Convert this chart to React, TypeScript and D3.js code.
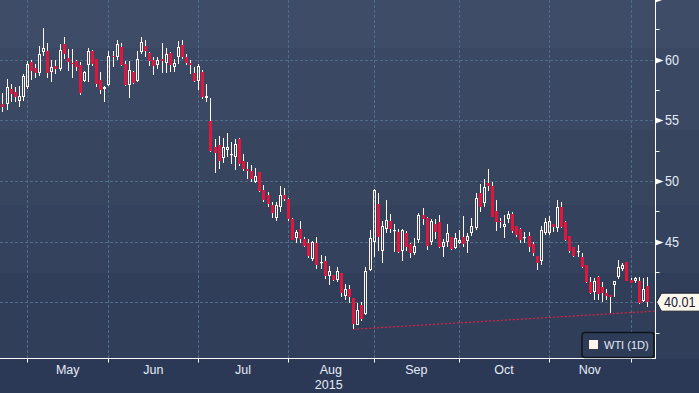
import React from "react";
import * as d3 from "d3";

// WTI daily candles, 23 Apr 2015 .. early Dec 2015 (trading-day index)
const opens = [
  56.35, 56.3, 57.54, 57.29, 56.61, 56.94, 57.7, 59.79, 59.27, 58.89,
  60.59, 60.7, 59.0, 59.5, 59.22, 61.3, 60.12, 59.7, 59.85, 59.55,
  58.26, 59.52, 60.7, 60.04, 58.31, 57.57, 57.93, 60.32, 60.18, 61.0,
  59.6, 57.93, 59.0, 58.26, 60.6, 61.13, 60.5, 59.96, 59.57, 60.04,
  59.74, 60.5, 59.41, 60.23, 61.19, 60.18, 59.74, 58.92, 58.26, 59.0,
  56.85, 54.93, 52.76, 52.95, 51.85, 52.51, 52.2, 51.99, 53.45, 51.61,
  50.97, 50.78, 49.93, 50.76, 49.25, 48.83, 47.98, 46.94, 47.82, 48.83,
  48.48, 46.86, 45.32, 46.04, 45.21, 44.88, 43.57, 44.88, 43.28, 43.37,
  42.19, 42.22, 41.86, 42.38, 40.54, 41.07, 40.35, 38.16, 39.78, 39.0,
  42.66, 44.99, 48.1, 44.25, 46.06, 46.7, 45.85, 45.79, 44.2, 45.68,
  44.8, 44.09, 45.13, 47.16, 46.92, 44.97, 46.45, 46.59, 44.58, 45.0,
  45.35, 44.5, 44.91, 45.35, 45.08, 45.71, 46.09, 49.03, 48.15, 49.8,
  49.58, 47.52, 46.72, 46.23, 46.86, 47.27, 46.28, 46.06, 45.29, 45.46,
  44.8, 43.81, 43.43, 45.73, 45.68, 46.45, 46.09, 47.82, 46.64, 45.46,
  44.53, 44.14, 43.7, 43.07, 41.67, 40.87, 42.06, 41.23, 40.79, 40.63,
  41.42, 42.06, 42.72, 43.34, 41.83, 41.75, 41.78, 40.13, 41.34,
];
const highs = [
  57.2, 58.4, 57.95, 57.7, 57.8, 58.78, 59.88, 59.93, 59.6, 61.14,
  62.57, 61.33, 59.96, 59.93, 61.3, 61.83, 60.84, 60.84, 59.96, 59.8,
  59.08, 60.92, 60.78, 60.04, 59.0, 57.8, 60.7, 60.7, 61.58, 61.38,
  59.88, 59.88, 59.05, 60.7, 61.83, 61.6, 60.65, 60.2, 60.23, 61.38,
  60.92, 60.65, 60.04, 61.52, 61.6, 60.45, 59.96, 59.41, 59.6, 59.13,
  57.98, 56.8, 53.45, 53.7, 53.53, 53.94, 53.17, 53.45, 53.53, 52.21,
  51.55, 51.3, 51.06, 50.76, 49.66, 49.08, 48.23, 48.26, 49.58, 49.41,
  48.59, 46.92, 45.95, 46.69, 45.35, 45.24, 45.08, 45.35, 43.87, 43.78,
  42.96, 42.22, 42.88, 42.38, 41.51, 41.45, 40.35, 39.91, 40.05, 42.93,
  45.96, 49.33, 48.97, 46.72, 48.43, 47.27, 46.45, 46.01, 46.04, 45.9,
  44.85, 45.27, 47.38, 47.74, 47.05, 46.83, 46.83, 47.16, 45.19, 46.45,
  45.35, 45.68, 45.95, 47.11, 45.73, 46.92, 49.03, 49.75, 50.13, 50.98,
  49.94, 48.43, 46.92, 47.19, 47.52, 47.46, 46.28, 46.15, 45.82, 45.82,
  44.97, 43.81, 46.28, 46.97, 47.11, 46.45, 48.43, 48.29, 46.72, 45.46,
  44.58, 44.72, 44.09, 43.07, 42.11, 42.03, 42.17, 41.7, 41.07, 40.63,
  41.75, 43.48, 43.26, 43.34, 42.03, 42.11, 42.06, 41.97, 42.11,
];
const lows = [
  55.7, 55.84, 56.52, 56.52, 56.1, 56.58, 57.54, 58.3, 58.47, 58.67,
  60.3, 58.47, 58.15, 58.8, 59.08, 60.07, 59.08, 58.5, 59.08, 57.1,
  58.15, 58.15, 59.46, 57.7, 57.13, 56.5, 57.8, 59.4, 59.96, 59.46,
  57.8, 56.85, 57.95, 58.15, 60.45, 60.23, 59.5, 58.72, 59.19, 58.89,
  58.89, 58.94, 58.94, 59.63, 60.07, 59.57, 58.8, 58.17, 57.49, 56.74,
  56.52, 52.4, 50.67, 50.97, 51.5, 51.94, 51.36, 50.92, 51.25, 50.84,
  50.15, 49.9, 49.8, 49.08, 48.28, 47.82, 46.97, 46.72, 47.43, 48.34,
  46.72, 45.1, 44.91, 44.91, 44.55, 43.62, 43.37, 42.77, 42.74, 41.92,
  41.45, 41.78, 41.64, 40.46, 40.22, 39.97, 37.8, 38.1, 38.5, 38.99,
  42.6, 43.7, 44.25, 43.26, 45.73, 45.73, 44.17, 44.09, 43.43, 44.25,
  43.67, 43.9, 44.91, 46.37, 44.31, 44.72, 45.21, 44.44, 43.76, 44.58,
  44.31, 44.36, 44.77, 44.58, 44.03, 45.46, 45.95, 47.46, 47.82, 49.2,
  47.02, 45.9, 46.09, 45.27, 46.5, 45.68, 45.35, 44.91, 44.91, 44.17,
  43.81, 42.66, 43.07, 45.54, 45.54, 45.82, 45.82, 46.09, 45.08, 44.09,
  43.76, 43.7, 42.8, 41.6, 40.68, 40.19, 40.19, 40.05, 40.19, 39.09,
  40.46, 41.89, 42.6, 41.75, 41.56, 41.56, 39.86, 40.05, 39.64,
];
const closes = [
  56.11, 57.7, 57.13, 56.9, 57.02, 58.61, 59.6, 59.08, 58.89, 60.43,
  60.92, 58.89, 59.35, 59.2, 60.78, 60.48, 59.82, 59.68, 59.41, 57.27,
  59.0, 60.7, 59.66, 57.98, 57.49, 57.7, 60.26, 60.18, 61.25, 59.55,
  57.93, 59.13, 58.07, 60.07, 61.41, 60.7, 59.9, 59.5, 59.96, 59.9,
  60.45, 59.55, 59.68, 61.02, 60.18, 59.68, 59.57, 58.26, 59.44, 56.94,
  56.99, 52.46, 52.32, 51.66, 52.76, 52.79, 52.22, 53.03, 51.42, 50.95,
  50.81, 50.12, 50.4, 49.16, 48.42, 48.09, 47.38, 47.98, 48.83, 48.53,
  46.9, 45.13, 45.79, 45.19, 44.66, 43.81, 44.97, 43.1, 43.3, 42.19,
  42.55, 41.86, 42.6, 40.76, 41.12, 40.43, 38.21, 39.36, 38.6, 42.58,
  45.3, 49.25, 45.35, 46.28, 46.78, 46.06, 45.93, 44.17, 45.93, 44.58,
  44.03, 44.61, 47.19, 46.86, 44.66, 46.67, 45.82, 44.53, 44.97, 45.68,
  44.39, 45.3, 45.16, 44.77, 45.49, 46.28, 48.56, 47.82, 49.47, 49.6,
  47.05, 46.64, 46.59, 46.42, 47.24, 45.9, 45.54, 45.13, 45.38, 44.58,
  44.03, 43.21, 45.95, 46.64, 46.7, 46.17, 47.88, 46.17, 45.13, 44.25,
  43.81, 44.23, 42.93, 41.64, 40.74, 41.75, 40.65, 40.74, 40.54, 40.41,
  41.75, 42.93, 43.04, 41.75, 41.62, 41.97, 39.91, 41.07, 40.01,
];

// first trading day of each month (index into the series)
const monthStarts = [6, 26, 48, 70, 91, 112, 134, 154];
const monthNames = ["May", "Jun", "Jul", "Aug", "Sep", "Oct", "Nov"];
const yearLabel = "2015";
const yearUnder = "Aug";
const yLabels = [40, 45, 50, 55, 60];
const yMarkers = [45, 50, 55, 60, 65];
const yMinor = [37.5, 42.5, 47.5, 52.5, 57.5, 62.5];
const lastPrice = 40.01;
const trendFrom = [86, 37.78];
const trendTo = [160.3, 39.28];
const seriesName = "WTI (1D)";

const W = 699;
const H = 393;
const axisX = 655.5;
const axisY = 358.5;

const bands = [
  { y0: 0, y1: 48, c: "#3e4c67" },
  { y0: 48, y1: 130, c: "#3a4863" },
  { y0: 130, y1: 205, c: "#37455f" },
  { y0: 205, y1: 273, c: "#34425d" },
  { y0: 273, y1: 359, c: "#303e5a" },
  { y0: 359, y1: 393, c: "#2c3956" },
];

const RED = "#e0163d";
const WICK = "#fff6ee";
const GRID = "#4f6c8a";
const LABEL = "#e4ebf6";
const FONT = "'Liberation Sans', Arial, sans-serif";

export default function App() {
  const x = d3.scaleLinear().domain([-0.6, 160]).range([0, axisX - 0.5]);
  const y = d3.scaleLinear().domain([40, 60]).range([302.3, 59.5]);

  const candles = opens.map((o, i) => {
    const c = closes[i];
    const cx = Math.round(x(i));
    const px = cx + 0.5;
    const top = Math.round(y(Math.max(o, c)));
    const bot = Math.round(y(Math.min(o, c)));
    const hy = Math.round(y(highs[i]));
    const ly = Math.round(y(lows[i]));
    const up = c >= o;
    const h = Math.max(bot - top, 1);
    if (!up) {
      return (
        <g key={i}>
          <line x1={px} x2={px} y1={hy} y2={ly} stroke={WICK} strokeWidth={1} />
          <rect x={cx - 1} y={top} width={3} height={h} fill={RED} />
        </g>
      );
    }
    return (
      <g key={i}>
        <line x1={px} x2={px} y1={hy} y2={top} stroke={WICK} strokeWidth={1} />
        <line x1={px} x2={px} y1={top + h} y2={ly} stroke={WICK} strokeWidth={1} />
        {h <= 1 ? (
          <rect x={cx - 1} y={top} width={3} height={1.2} fill={WICK} />
        ) : (
          <rect x={cx - 0.5} y={top + 0.5} width={2} height={h - 1 > 0 ? h - 1 : 0.5}
            fill="none" stroke={WICK} strokeWidth={1} />
        )}
      </g>
    );
  });

  const monthMid = monthNames.map((m, k) => ({
    name: m,
    cx: (x(monthStarts[k]) + x(monthStarts[k + 1])) / 2,
  }));
  const yearX = monthMid.find((d) => d.name === yearUnder)!.cx;

  const yl = y(lastPrice);

  return (
    <div style={{ position: "absolute", left: 0, top: 0 }}>
      <svg width={W} height={H} style={{ display: "block" }} fontFamily={FONT}>
        {bands.map((b, i) => (
          <rect key={i} x={0} y={b.y0} width={W} height={b.y1 - b.y0} fill={b.c} />
        ))}

        {/* grid */}
        {yLabels.map((v) => (
          <line key={"hg" + v} x1={0} x2={axisX} y1={Math.round(y(v)) + 0.5} y2={Math.round(y(v)) + 0.5}
            stroke={GRID} strokeWidth={1} strokeDasharray="3,2" />
        ))}
        {monthStarts.map((i) => (
          <line key={"vg" + i} x1={Math.round(x(i)) + 0.5} x2={Math.round(x(i)) + 0.5} y1={0} y2={axisY}
            stroke={GRID} strokeWidth={1} strokeDasharray="3,2" />
        ))}

        {/* trend line */}
        <line x1={x(trendFrom[0])} y1={y(trendFrom[1])} x2={x(trendTo[0])} y2={y(trendTo[1])}
          stroke="#e3223f" strokeWidth={1.2} strokeDasharray="2,2" />

        {candles}

        {/* axes */}
        <line x1={0} x2={axisX + 0.5} y1={axisY} y2={axisY} stroke="#ffffff" strokeWidth={1} />
        <line x1={axisX} x2={axisX} y1={0} y2={axisY} stroke="#ffffff" strokeWidth={1} />
        {monthStarts.map((i) => (
          <line key={"xt" + i} x1={Math.round(x(i)) + 0.5} x2={Math.round(x(i)) + 0.5} y1={axisY} y2={axisY + 4}
            stroke="#ffffff" strokeWidth={1} />
        ))}
        {monthMid.map((d) => (
          <text key={d.name} x={d.cx} y={374} textAnchor="middle" fontSize={12.5} fill={LABEL}>
            {d.name}
          </text>
        ))}
        <text x={yearX - 2} y={389} textAnchor="middle" fontSize={12.5} fill={LABEL}>
          {yearLabel}
        </text>

        {yMinor.map((v) => (
          <line key={"ym" + v} x1={axisX} x2={axisX + 4} y1={Math.round(y(v)) + 0.5} y2={Math.round(y(v)) + 0.5}
            stroke="#ffffff" strokeWidth={1} />
        ))}
        {yMarkers.map((v) => {
          const yy = Math.round(y(v)) + 0.5;
          return (
            <path key={"yk" + v} d={`M${axisX},${yy - 3} L${axisX + 8},${yy} L${axisX},${yy + 3} Z`} fill="#ffffff" />
          );
        })}
        {yLabels.filter((v) => Math.abs(v - lastPrice) > 1).map((v) => (
          <text key={"yl" + v} transform={`translate(665,${y(v) + 5}) scale(0.9,1)`} fontSize={14} fill={LABEL}>
            {v}
          </text>
        ))}

        {/* last price tag */}
        <path d={`M${axisX + 1},${yl} L${axisX + 6},${yl - 9} L${W + 2},${yl - 9} L${W + 2},${yl + 9} L${axisX + 6},${yl + 9} Z`}
          fill="#fdf7ec" stroke="#1d2433" strokeWidth={1} />
        <text transform={`translate(664,${yl + 5}) scale(0.9,1)`} fontSize={14} fill="#16203a">
          {lastPrice.toFixed(2)}
        </text>

        {/* legend */}
        <rect x={582} y={332.5} width={72} height={25} rx={3} fill="#2e3c58" stroke="#10141c" strokeWidth={1.5} />
        <rect x={589} y={340} width={9} height={9} fill="#fff3ec" />
        <text x={604} y={349} fontSize={11} fill={LABEL}>
          {seriesName}
        </text>
      </svg>
    </div>
  );
}
